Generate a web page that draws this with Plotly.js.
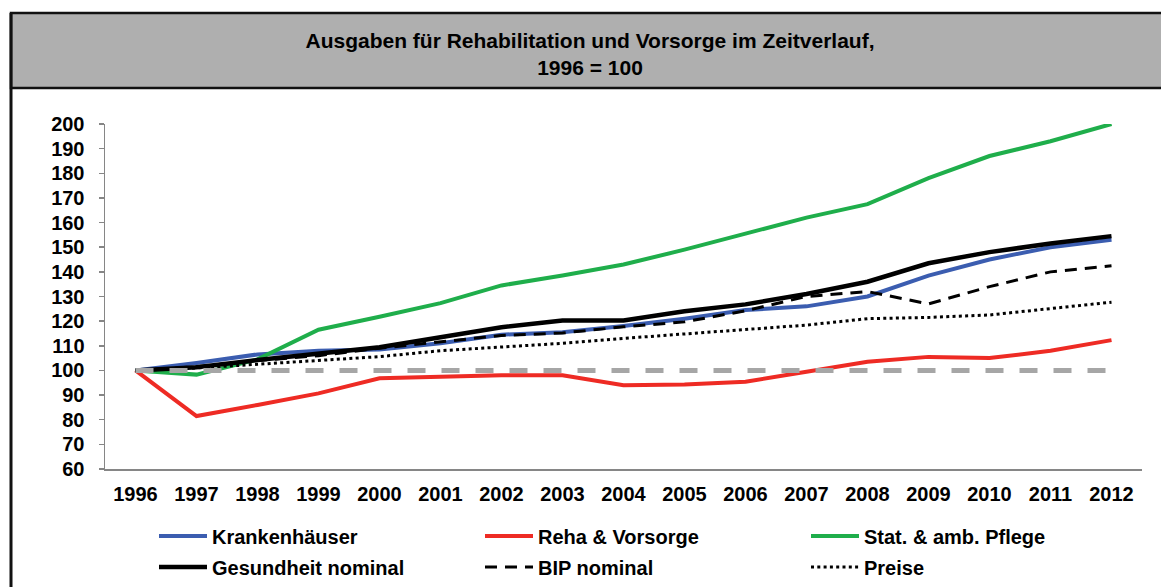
<!DOCTYPE html>
<html>
<head>
<meta charset="utf-8">
<script src="https://cdn.plot.ly/plotly-3.0.1.min.js"></script>
<style>html,body{margin:0;padding:0;background:#fff;}#chart{width:1161px;height:587px;}</style>
</head>
<body>
<div id="chart"></div>
<script>
// ---- data ----
const years = ['1996','1997','1998','1999','2000','2001','2002','2003','2004','2005','2006','2007','2008','2009','2010','2011','2012'];
const krankenhaeuser = [100, 103, 106.5, 108, 108.5, 111, 114.5, 115.5, 118, 121, 124.5, 126, 130, 138.5, 145, 150, 153];
const rehaVorsorge   = [100, 81.5, 86, 90.7, 96.8, 97.5, 98, 98, 94, 94.3, 95.4, 99.5, 103.5, 105.5, 105, 108, 112.3];
const pflege         = [100, 98.3, 104.5, 116.5, 121.8, 127.3, 134.5, 138.5, 143, 149, 155.5, 162, 167.5, 178, 187, 193, 200];
const gesundheit     = [100, 101.3, 104.2, 107, 109.4, 113.5, 117.5, 120.3, 120.3, 124, 126.8, 131, 136, 143.5, 148, 151.5, 154.5];
const bip            = [100, 101.5, 104, 106, 109, 111.5, 114.2, 115.2, 117.7, 119.7, 124.2, 130, 132, 127, 134, 140, 142.5];
const preise         = [100, 101, 102.5, 104.2, 105.6, 108, 109.4, 111, 113, 114.8, 116.4, 118.4, 121, 121.5, 122.5, 125, 127.7];
const basis          = [100, 100, 100, 100, 100, 100, 100, 100, 100, 100, 100, 100, 100, 100, 100, 100, 100];
const seriesNames = ['Krankenhäuser', 'Reha & Vorsorge', 'Stat. & amb. Pflege', 'Gesundheit nominal', 'BIP nominal', 'Preise'];
const yTicks = [60, 70, 80, 90, 100, 110, 120, 130, 140, 150, 160, 170, 180, 190, 200];
const titleText = 'Ausgaben für Rehabilitation und Vorsorge im Zeitverlauf,<br>1996 = 100';

// ---- layout geometry ----
const W = 1161, H = 587;
const M = {l: 105, r: 19, t: 124, b: 118, autoexpand: false};
const PW = W - M.l - M.r, PH = H - M.t - M.b;
const px = x => (x - M.l) / PW;
const py = y => (H - M.b - y) / PH;

const FONT = 'Liberation Sans, Arial, sans-serif';

function tr(y, name, color, width, dash, legend) {
  return {
    type: 'scatter', mode: 'lines', x: years, y: y, name: name,
    line: {color: color, width: width, dash: dash || 'solid'},
    legend: legend, showlegend: !!legend, hoverinfo: 'skip'
  };
}

const data = [
  tr(krankenhaeuser, seriesNames[0], '#3B5DB0', 4, 'solid', 'legend'),
  tr(rehaVorsorge, seriesNames[1], '#EE2B24', 4, 'solid', 'legend'),
  tr(pflege, seriesNames[2], '#1FAE4B', 4, 'solid', 'legend'),
  tr(gesundheit, seriesNames[3], '#000000', 4.5, 'solid', 'legend2'),
  tr(bip, seriesNames[4], '#000000', 3, '12px,8px', 'legend2'),
  tr(preise, seriesNames[5], '#000000', 3, '3px,3.3px', 'legend2'),
  tr(basis, 'Basis', '#A6A6A6', 5, '18px,16px', null)
];

const legendCommon = {
  orientation: 'h', xanchor: 'left', yanchor: 'middle',
  entrywidth: 263, entrywidthmode: 'pixels',
  itemwidth: 48, bgcolor: 'rgba(0,0,0,0)',
  font: {family: FONT, size: 20, color: '#000', weight: 'bold'},
  itemclick: false, itemdoubleclick: false
};

const layout = {
  width: W, height: H,
  margin: M,
  paper_bgcolor: '#ffffff', plot_bgcolor: '#ffffff',
  font: {family: FONT, color: '#000'},
  title: {
    text: titleText,
    font: {family: FONT, size: 21, color: '#000', weight: 'bold'},
    xref: 'container', yref: 'container',
    x: 590 / W, y: 1 - 48 / H, xanchor: 'center', yanchor: 'middle'
  },
  xaxis: {
    type: 'category', range: [-0.5, 16.5],
    showline: true, linecolor: '#868686', linewidth: 1.5,
    ticks: '', showgrid: false, zeroline: false,
    tickfont: {family: FONT, size: 20, color: '#000', weight: 'bold'},
    ticklabelstandoff: 6, fixedrange: true
  },
  yaxis: {
    range: [60, 200], tickvals: yTicks, ticktext: yTicks.map(String),
    showline: true, linecolor: '#868686', linewidth: 1.5,
    ticks: 'outside', ticklen: 5, tickcolor: '#868686', tickwidth: 1.5,
    showgrid: false, zeroline: false,
    tickfont: {family: FONT, size: 20, color: '#000', weight: 'bold'},
    ticklabelstandoff: 10, fixedrange: true
  },
  legend: Object.assign({}, legendCommon, {x: px(154), y: py(536)}),
  legend2: Object.assign({}, legendCommon, {x: px(154), y: py(567)}),
  shapes: [
    {type: 'rect', xref: 'paper', yref: 'paper', layer: 'below',
     x0: px(11), x1: px(W + 5), y0: py(88), y1: py(13),
     fillcolor: '#AFAFAF', line: {color: '#111', width: 2.5}},
    {type: 'line', xref: 'paper', yref: 'paper',
     x0: px(11), x1: px(11), y0: py(13), y1: py(H + 5),
     line: {color: '#111', width: 3}}
  ]
};

Plotly.newPlot('chart', data, layout, {displayModeBar: false, staticPlot: true});
</script>
</body>
</html>
